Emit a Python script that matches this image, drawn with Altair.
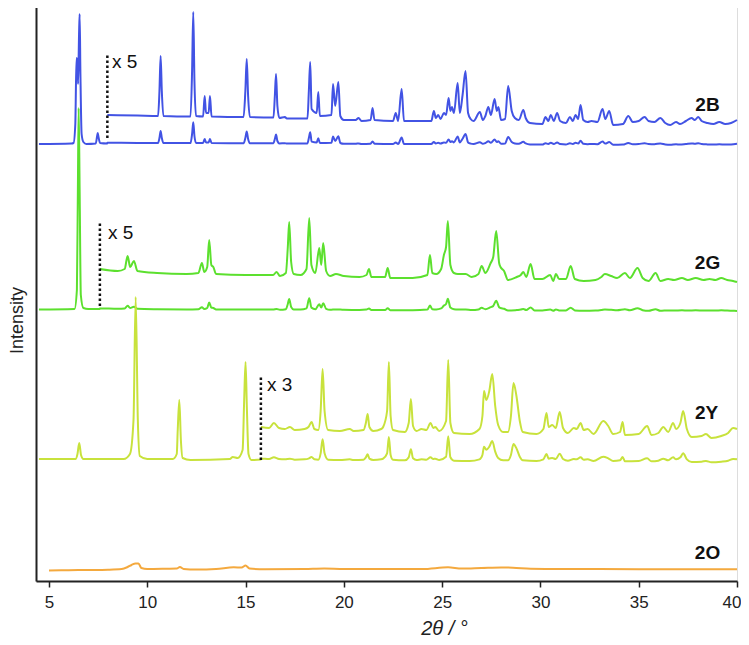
import altair as alt
import pandas as pd

# ---------------- data ----------------
# intensities in arbitrary units (1 unit ~ 1 px of the original figure)
SAMPLES = ["2B", "2G", "2Y", "2O"]
COLORS = ["#4253E4", "#5CE02E", "#C8E23C", "#F4A93E"]

# baselines of the raw traces and of the magnified traces
BASE_OFFSET = {"2B": 437, "2G": 271, "2Y": 121}
MAG_OFFSET = {"2B": 460, "2G": 304, "2Y": 150}
MAG_FACTOR = {"2B": 5, "2G": 5, "2Y": 3}

# 2B : raw trace before the magnified part (heights above raw baseline)
B_LO_X = [4.49, 6.15, 6.25, 6.34, 6.40, 6.44, 6.48, 6.53, 6.56, 6.60, 6.66, 6.75,
          6.90, 7.38, 7.45, 7.48, 7.52, 7.60, 7.96]
B_LO_H = [0, 0.5, 1, 20, 86, 84, 60, 110, 130, 70, 10, 2,
          0, 0.5, 8, 11, 7, 1, 0.5]
# 2B : x5 part (heights above magnified baseline, x5 units)
B_HI_X = [7.97, 9.5, 10.55, 10.62, 10.68, 10.74, 10.82, 12.2, 12.28, 12.34, 12.40, 12.48,
          12.84, 12.92, 12.99, 13.12, 13.19, 13.27, 14.9, 14.99, 15.06, 15.13, 15.22,
          16.42, 16.49, 16.55, 16.62, 16.72, 17.0, 17.1, 18.15, 18.22, 18.29, 18.36,
          18.62, 18.70, 18.78, 19.37, 19.45, 19.56, 19.72, 19.82, 20.0, 20.6, 20.75,
          20.9, 21.36, 21.46, 21.56, 22.5, 22.64, 22.76, 22.94, 23.06, 24.45, 24.58,
          24.68, 24.80, 24.92, 25.09, 25.2, 25.33, 25.42, 25.5, 25.6, 25.79, 25.9,
          26.04, 26.19, 26.32, 26.45, 26.6, 26.92, 27.07, 27.2, 27.35, 27.48, 27.67,
          27.78, 27.86, 28.0, 28.2, 28.36, 28.54, 28.7, 28.9, 29.13, 29.25, 29.47,
          30.1, 30.26, 30.4, 30.53, 30.68, 30.85, 31.0, 31.3, 31.5, 31.65, 31.79,
          31.92, 32.04, 32.18, 32.4, 32.6, 32.9, 33.16, 33.3, 33.5, 33.7, 34.2,
          34.47, 34.7, 35.0, 35.3, 35.5, 35.8, 36.1, 36.35, 36.6, 36.9, 37.1, 37.4,
          37.69, 37.85, 38.03, 38.2, 38.5, 38.8, 39.1, 39.4, 39.7, 40.0]
B_HI_H = [6, 5.5, 5, 30, 65, 30, 5, 4.5, 50, 109, 40, 5,
          4.5, 25, 8, 8, 25, 4.5, 4, 30, 62, 25, 4,
          3.5, 25, 47, 15, 3, 4, 2.5, 2.5, 30, 59, 12,
          8, 29, 5, 6, 37, 15, 39, 5, 1, 1, 3,
          0, 1, 13, 1, 0, 8, 0, 32, 0, 0, 10,
          3, 6, 2, 8, 6, 23, 10, 14, 8, 38, 8,
          26, 50, 8, 2, 0, 9, 1, 5, 14, 6, 22,
          10, 14, 1, 2, 35, 10, 3, 1, 11, 3, -2,
          -3, 4, 0, 6, 0, 8, 0, -2, 4, 0, 6,
          2, 16, 1, -1, 0, -1, 12, 2, 10, -4, -3,
          5, -1, 0, 4, 0, -1, 3, -2, -4, -1, -3, 0,
          3, 1, 4, 0, -2, -3, -1, -3, -2, 1]

# 2G
G_LO_X = [4.49, 6.30, 6.42, 6.47, 6.51, 6.56, 6.62, 6.75, 7.0, 7.58]
G_LO_H = [0.5, 1, 20, 120, 202, 120, 15, 2, 1, 1]
G_HI_X = [7.59, 8.5, 8.85, 9.0, 9.13, 9.32, 9.5, 10.5, 12.0, 12.6, 12.78, 12.9,
          13.05, 13.15, 13.26, 13.36, 13.5, 15.0, 16.4, 16.58, 16.75, 17.05, 17.15,
          17.22, 17.32, 17.45, 17.8, 18.1, 18.24, 18.35, 18.55, 18.75, 18.85, 18.95,
          19.1, 19.3, 19.6, 20.0, 20.8, 21.15, 21.28, 21.4, 22.1, 22.23, 22.36, 23.5,
          24.25, 24.38, 24.5, 24.7, 24.95, 25.09, 25.2, 25.29, 25.42, 25.6, 25.8,
          26.2, 26.5, 26.85, 27.01, 27.2, 27.47, 27.6, 27.75, 27.9, 27.97, 28.15,
          28.35, 28.8, 29.0, 29.13, 29.28, 29.5, 29.7, 30.1, 30.5, 30.65, 30.79,
          30.95, 31.3, 31.54, 31.75, 32.2, 32.8, 33.1, 33.28, 33.6, 33.9, 34.3,
          34.55, 34.94, 35.2, 35.5, 35.86, 36.1, 36.5, 36.8, 37.2, 37.5, 37.9,
          38.3, 38.6, 38.9, 39.2, 39.5, 39.8, 40.0]
G_HI_H = [8, 6, 8, 21, 10, 16, 6, 4, 3, 4, 14, 5,
          10, 37, 12, 10, 3, 2, 2, 5, 1, 4, 30,
          55, 15, 3, 2, 8, 59, 12, 4, 29, 12, 34,
          6, 1, 3, 1, 0, 2, 8, 0, 0, 9, -1, -1,
          2, 22, 4, 3, 8, 22, 30, 56, 12, 4, 3,
          3, 0, 3, 11, 4, 14, 20, 46, 14, 10, 6,
          -3, 0, 2, 5, 0, 13, -2, -2, 2, -4, 3,
          -2, -2, 11, -2, -4, -3, 0, 3, 1, -1, 4,
          -1, 9, -1, -4, 4, -4, -2, -3, -1, -3, -1,
          -3, -2, -3, -1, -3, -4, -5]

# 2Y
Y_LO_X = [4.49, 6.35, 6.45, 6.54, 6.63, 6.75, 8.8, 9.12, 9.3, 9.41, 9.52, 9.62,
          10.0, 11.3, 11.5, 11.55, 11.63, 11.71, 11.8, 12.2, 14.2, 14.35, 14.6,
          14.85, 14.93, 15.0, 15.07, 15.15, 15.3, 15.77]
Y_LO_H = [1, 1, 6, 17, 5, 1, 1, 6, 40, 163, 40, 4,
          1, 1, 6, 30, 60, 20, 2, 0, 1, 3, 2,
          10, 60, 98, 50, 6, 0, 0.5]
Y_HI_X = [15.78, 16.2, 16.44, 16.7, 17.0, 17.26, 17.5, 18.0, 18.2, 18.36, 18.5, 18.7,
          18.82, 18.92, 19.02, 19.2, 19.8, 20.3, 20.5, 21.0, 21.12, 21.21, 21.3,
          21.5, 21.9, 22.0, 22.2, 22.29, 22.38, 22.5, 23.1, 23.3, 23.41, 23.52, 23.7,
          23.95, 24.2, 24.41, 24.55, 24.65, 24.85, 25.2, 25.31, 25.42, 25.6, 26.4,
          26.9, 27.05, 27.13, 27.25, 27.4, 27.55, 27.7, 27.85, 28.1, 28.35, 28.5,
          28.63, 28.78, 28.95, 29.1, 29.8, 30.15, 30.31, 30.42, 30.6, 30.78, 30.98,
          31.15, 31.4, 31.7, 31.85, 32.04, 32.2, 32.4, 32.7, 33.2, 33.45, 33.7,
          34.05, 34.18, 34.3, 35.0, 35.43, 35.65, 36.0, 36.25, 36.5, 36.75, 36.9,
          37.12, 37.26, 37.45, 37.7, 38.2, 38.42, 38.7, 39.2, 39.55, 39.8, 40.0]
Y_HI_H = [4, 3, 8, 3, 2, 4, 1, 2, 4, 9, 2, 1,
          20, 62, 20, 1, 0, 2, 0, 1, 8, 17, 4,
          0, 2, 4, 20, 69, 15, 1, -1, 8, 32, 5, 0,
          2, 1, 8, 3, 4, 0, 10, 71, 8, -2, -3,
          2, 15, 40, 31, 40, 57, 25, 6, -1, -1, 15,
          48, 35, 10, -1, -3, 2, 18, 4, 6, 3, 19,
          3, -2, 3, 2, 8, 1, 2, -3, 10, 5, -3,
          -1, 9, -4, -3, 5, -4, -2, 4, -1, 8, 2,
          8, 20, 2, -6, -5, -3, -7, -5, -2, 3, 2]

# 2O (single raw trace)
O_X = [5.0, 6.0, 7.0, 8.0, 8.7, 9.0, 9.2, 9.4, 9.55, 9.7, 10.0, 11.0, 11.5, 11.66,
       11.85, 12.5, 13.5, 14.4, 14.8, 15.0, 15.2, 16.0, 18.0, 19.0, 20.0, 22.0,
       24.0, 25.3, 26.0, 27.0, 28.0, 28.6, 29.5, 31.0, 33.0, 35.0, 37.0, 40.0]
O_Y = [10.5, 10.8, 11, 11.3, 12, 14, 16, 17.5, 17.5, 13, 12, 12.3, 12.5, 14,
       12, 11.5, 12, 13.7, 13.5, 15.5, 12.5, 11.7, 12, 12.5, 12, 12,
       12, 13.7, 12.5, 13, 13.5, 13.3, 12.3, 12, 12, 11.8, 11.7, 11.7]

# annotations
MAG_START = {"2B": 7.97, "2G": 7.59, "2Y": 15.78}
MARKER_Y = {"2B": (443, 528), "2G": (275, 359), "2Y": (121, 205)}
MAG_TEXT = {"2B": ("x 5", 8.21, 519), "2G": ("x 5", 8.0, 348), "2Y": ("x 3", 16.09, 196)}
LABEL_POS = {"2B": (38.5, 476), "2G": (38.5, 318), "2Y": (38.45, 168), "2O": (38.5, 28)}

X_TICKS = [5, 10, 15, 20, 25, 30, 35, 40]

# ---------------- build tables ----------------
rows = []
series = {"2B": (B_LO_X, B_LO_H, B_HI_X, B_HI_H),
          "2G": (G_LO_X, G_LO_H, G_HI_X, G_HI_H),
          "2Y": (Y_LO_X, Y_LO_H, Y_HI_X, Y_HI_H)}
for s, (lx, lh, hx, hh) in series.items():
    off, moff, k = BASE_OFFSET[s], MAG_OFFSET[s], MAG_FACTOR[s]
    for x, h in zip(lx, lh):
        rows.append({"x": x, "y": off + h, "trace": s + " raw", "sample": s})
    for x, h in zip(hx, hh):
        rows.append({"x": x, "y": off + h / k, "trace": s + " raw", "sample": s})
        rows.append({"x": x, "y": moff + h, "trace": s + " mag", "sample": s})
for x, y in zip(O_X, O_Y):
    rows.append({"x": x, "y": y, "trace": "2O raw", "sample": "2O"})
df = pd.DataFrame(rows)

markers = pd.DataFrame([{"x": MAG_START[s], "y": MARKER_Y[s][0], "y2": MARKER_Y[s][1]}
                        for s in MAG_START])
magtext = pd.DataFrame([{"t": v[0], "x": v[1], "y": v[2]} for v in MAG_TEXT.values()])
labels = pd.DataFrame([{"t": s, "x": LABEL_POS[s][0], "y": LABEL_POS[s][1]} for s in SAMPLES])

xscale = alt.Scale(domain=[4.34, 40.0], nice=False, zero=False)
yscale = alt.Scale(domain=[0, 581], nice=False, zero=False)

xaxis = alt.Axis(values=X_TICKS, title="2θ / °", grid=False,
                 titleFontStyle="italic", titleFontWeight="normal", titleFontSize=20,
                 titleFont="Liberation Sans", titleColor="#222",
                 titleX=408, titleY=47, titleBaseline="middle", titleAlign="center",
                 labelFont="Liberation Sans", labelFontSize=17, labelColor="#222",
                 labelPadding=7, labelFlush=True, labelFlushOffset=4,
                 tickSize=6, tickWidth=1.5, tickColor="#222",
                 domainColor="#222", domainWidth=2)
yaxis = alt.Axis(title="Intensity", ticks=False, labels=False, grid=False,
                 titleFont="Liberation Sans", titleFontSize=18, titleFontWeight="normal",
                 titleColor="#222", titleAngle=270, titleX=-14, titleY=320,
                 titleAlign="center", titleBaseline="alphabetic",
                 domainColor="#222", domainWidth=2)

lines = alt.Chart(df).mark_line(strokeWidth=2, interpolate="monotone",
                                strokeJoin="round").encode(
    x=alt.X("x:Q", scale=xscale, axis=xaxis),
    y=alt.Y("y:Q", scale=yscale, axis=yaxis),
    detail="trace:N",
    color=alt.Color("sample:N", scale=alt.Scale(domain=SAMPLES, range=COLORS), legend=None),
    order="x:Q",
)

dots = alt.Chart(markers).mark_rule(color="#111", strokeWidth=2.5, strokeDash=[2.5, 2.5]).encode(
    x=alt.X("x:Q", scale=xscale), y=alt.Y("y:Q", scale=yscale), y2="y2:Q")

mtext = alt.Chart(magtext).mark_text(align="left", baseline="middle", fontSize=19,
                                     font="Liberation Sans", color="#111").encode(
    x=alt.X("x:Q", scale=xscale), y=alt.Y("y:Q", scale=yscale), text="t:N")

ltext = alt.Chart(labels).mark_text(align="center", baseline="middle", fontSize=19,
                                    fontWeight="bold", font="Liberation Sans",
                                    color="#111").encode(
    x=alt.X("x:Q", scale=xscale), y=alt.Y("y:Q", scale=yscale), text="t:N")

chart = alt.layer(lines, dots, mtext, ltext).properties(
    width=701, height=581,
    autosize=alt.AutoSizeParams(type="none"),
    padding={"left": 28, "top": -8, "right": 4, "bottom": 56},
).configure_view(stroke=None).configure(background="white")

chart.save("out.html", embed_options={"renderer": "svg", "actions": False})
